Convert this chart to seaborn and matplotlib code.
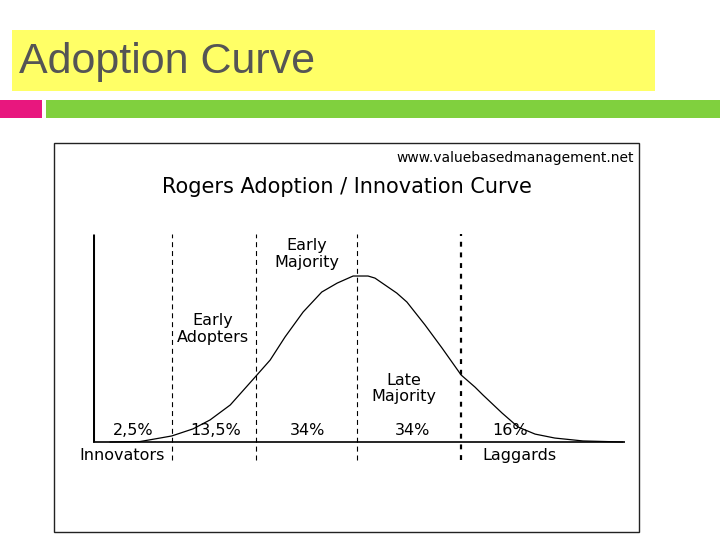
import matplotlib
matplotlib.use("Agg")
import matplotlib.pyplot as plt
import seaborn as sns
import pandas as pd
from matplotlib.patches import Rectangle

# --- data (x: 0-100 across the axis, y: 0-100 up the axis) ---
curve_x = [3.2, 8.8, 12.6, 14.8, 18.8, 22.0, 25.8, 30.5, 33.3, 36.1, 39.5, 43.0,
           45.9, 48.9, 51.7, 53.0, 57.1, 59.0, 62.4, 65.6, 69.2, 71.8, 73.3, 76.9,
           79.9, 83.1, 86.8, 92.1, 99.6]
curve_y = [0.0, 0.2, 1.9, 2.9, 6.3, 10.6, 17.8, 31.3, 39.4, 50.5, 62.5, 72.1,
           76.4, 79.8, 79.8, 78.8, 71.6, 67.3, 56.3, 45.2, 32.2, 26.4, 22.6, 13.9,
           7.2, 3.8, 1.9, 0.5, 0.0]
dividers = [14.8, 30.6, 49.6, 69.2]
group_names = ["Innovators", "Early\nAdopters", "Early\nMajority", "Late\nMajority", "Laggards"]
group_x = [5.5, 22.6, 40.2, 58.5, 80.1]
group_y = [-6.3, 54.3, 90.4, 25.7, -6.3]
shares = ["2,5%", "13,5%", "34%", "34%", "16%"]
share_x = [7.5, 23.1, 40.4, 60.0, 78.4]

df = pd.DataFrame({"x": curve_x, "y": curve_y})

sns.set_style("white")
plt.rcParams["font.family"] = ["DejaVu Sans"]

fig = plt.figure(figsize=(7.2, 5.4), dpi=100)

# --- slide decoration (pixel coordinates) ---
bg = fig.add_axes([0, 0, 1, 1])
bg.set_xlim(0, 720)
bg.set_ylim(540, 0)
bg.axis("off")
bg.add_patch(Rectangle((12, 30), 643, 61, color="#FFFF66", lw=0))
bg.add_patch(Rectangle((0, 100), 42, 18, color="#E8177E", lw=0))
bg.add_patch(Rectangle((46, 100), 674, 18, color="#80D03E", lw=0))
bg.text(19, 62, "Adoption Curve", fontsize=31, color="#555555",
        family="Liberation Sans", va="center", ha="left")
bg.add_patch(Rectangle((54, 143), 585, 389, fill=False, ec="#222222", lw=1))
bg.text(634, 158, "www.valuebasedmanagement.net", fontsize=10, ha="right",
        va="center", color="black")
bg.text(347, 187, "Rogers Adoption / Innovation Curve", fontsize=15, ha="center",
        va="center", color="black")

# --- the curve ---
ax = fig.add_axes([93 / 720, 1 - 463 / 540, 532 / 720, 229 / 540])
ax.set_xlim(0, 100)
ax.set_ylim(-10.1, 100)
ax.axis("off")

sns.lineplot(data=df, x="x", y="y", ax=ax, color="black", lw=0.9, sort=False)
ax.plot([0, 0], [0, 100], color="black", lw=2.2, solid_capstyle="butt")
ax.plot([0, 100], [0, 0], color="black", lw=1.2)
for i, d in enumerate(dividers):
    last = i == len(dividers) - 1
    ax.plot([d, d], [-8.5, 100], color="black",
            lw=1.6 if last else 0.8,
            ls=(0, (2.2, 2.6)) if last else (0, (4.5, 3.5)),
            dash_capstyle="butt")

for name, gx, gy in zip(group_names, group_x, group_y):
    ax.text(gx, gy, name, fontsize=11.5, ha="center", va="center",
            linespacing=1.1, color="black")
for s, sx in zip(shares, share_x):
    ax.text(sx, 5.3, s, fontsize=11.5, ha="center", va="center", color="black")

fig.savefig("out.png", dpi=100)
